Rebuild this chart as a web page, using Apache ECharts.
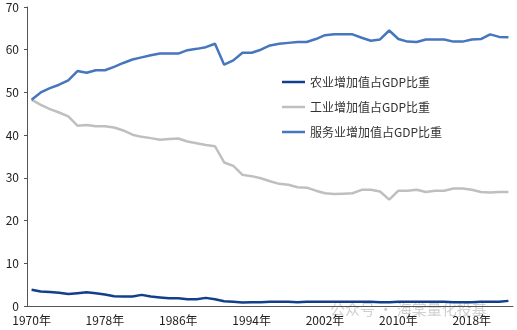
<!DOCTYPE html>
<html>
<head>
<meta charset="utf-8">
<script src="https://cdn.jsdelivr.net/npm/echarts@6/dist/echarts.min.js"></script>
<style>
html,body{margin:0;padding:0;background:#fff;}
#c{width:517px;height:330px;}
</style>
</head>
<body>
<div id="c"></div>
<script>
var years = [];
for (var y = 1970; y <= 2022; y++) years.push(y + '年');

var agriculture = [3.8,3.4,3.3,3.1,2.8,3.0,3.2,3.0,2.7,2.3,2.2,2.2,2.6,2.2,2.0,1.8,1.8,1.6,1.6,1.9,1.6,1.1,1.0,0.8,0.9,0.9,
  1.0,1.0,1.0,0.9,1.0,1.0,1.0,1.0,1.0,1.0,1.0,1.0,0.9,0.9,1.0,1.0,1.0,1.0,1.0,1.0,0.9,0.9,0.9,1.0,1.0,1.0,1.2];
var industry = [48.3,47.1,46.1,45.3,44.4,42.2,42.4,42.1,42.1,41.8,41.1,40.1,39.6,39.3,38.9,39.1,39.2,38.5,38.1,37.7,37.4,33.6,32.8,30.7,30.4,29.9,
  29.2,28.6,28.4,27.8,27.7,27.0,26.4,26.2,26.3,26.4,27.2,27.2,26.8,24.9,27.0,27.0,27.2,26.7,27.0,27.0,27.5,27.5,27.2,26.7,26.6,26.7,26.7];
var services = [48.3,50.0,51.0,51.8,52.8,55.0,54.6,55.2,55.2,56.0,56.9,57.7,58.2,58.7,59.1,59.1,59.1,59.9,60.2,60.6,61.4,56.5,57.5,59.3,59.3,60.0,
  61.0,61.4,61.6,61.8,61.8,62.5,63.4,63.6,63.6,63.6,62.8,62.1,62.4,64.5,62.5,61.9,61.8,62.4,62.4,62.4,61.9,61.9,62.4,62.5,63.6,63.0,62.9];
var seriesNames = ['农业增加值占GDP比重','工业增加值占GDP比重','服务业增加值占GDP比重'];
var yTicks = [0,10,20,30,40,50,60,70];
var colors = ['#123f8c', '#bfbfbf', '#4676bd'];

var chart = echarts.init(document.getElementById('c'));
var font = '"Noto Sans CJK SC","Noto Sans",sans-serif';
var lineIcon = 'path://M0,0h46v5h-46z';
chart.setOption({
  animation: false,
  grid: {left: 27, right: 4, top: 7, bottom: 24, containLabel: false},
  legend: {
    orient: 'vertical', left: 277, top: 71,
    itemWidth: 23, itemHeight: 12, itemGap: 13,
    textStyle: {fontFamily: font, fontSize: 12, color: '#333'},
    data: seriesNames.map(function (n) { return {name: n, icon: lineIcon}; })
  },
  xAxis: {
    type: 'category', data: years, boundaryGap: true,
    axisLine: {lineStyle: {color: '#555', width: 1}},
    axisTick: {interval: 7, length: 4, lineStyle: {color: '#555'}},
    axisLabel: {interval: 7, fontFamily: font, fontSize: 12, color: '#222', margin: 8}
  },
  yAxis: {
    type: 'value', min: yTicks[0], max: yTicks[yTicks.length-1], interval: 10,
    axisLine: {show: true, lineStyle: {color: '#555', width: 1}},
    axisTick: {show: true, length: 3, lineStyle: {color: '#555'}},
    axisLabel: {fontFamily: font, fontSize: 12, color: '#222', margin: 8},
    splitLine: {show: false}
  },
  series: [
    {name: seriesNames[0], type: 'line', data: agriculture, symbol: 'none',
     lineStyle: {color: colors[0], width: 2.5}, itemStyle: {color: colors[0]}},
    {name: seriesNames[1], type: 'line', data: industry, symbol: 'none',
     lineStyle: {color: colors[1], width: 2.5}, itemStyle: {color: colors[1]}},
    {name: seriesNames[2], type: 'line', data: services, symbol: 'none',
     lineStyle: {color: colors[2], width: 2.5}, itemStyle: {color: colors[2]}}
  ],
  graphic: [{
    type: 'text', left: 330, top: 302, silent: true,
    style: {text: '公众号 · 海棠量化投基', fontFamily: font, fontSize: 15, fill: 'rgba(150,150,150,0.45)'}
  }]
});
</script>
</body>
</html>
